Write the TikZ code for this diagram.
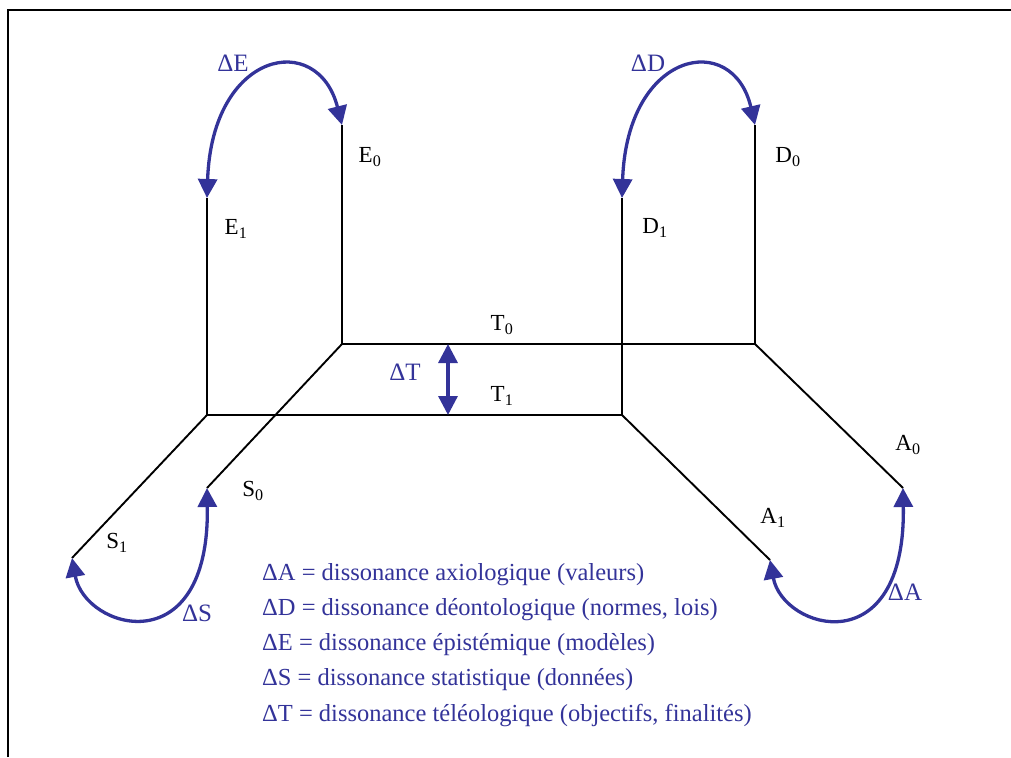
\documentclass[tikz,border=0pt]{standalone}
\usepackage{fontspec}
\setmainfont{Liberation Serif}
\usetikzlibrary{arrows.meta}
\definecolor{dblue}{RGB}{51,51,153}
\begin{document}
\begin{tikzpicture}[x=1pt,y=-1pt,
  axis/.style={line width=1.9pt,black},
  frame/.style={line width=2pt,black},
  delta/.style={line width=3.3pt,dblue,{Triangle[length=19pt,width=19pt]}-{Triangle[length=19pt,width=19pt]}},
  lbl/.style={font=\fontsize{23}{26}\selectfont,inner sep=0pt},
  dlbl/.style={font=\fontsize{25}{28}\selectfont,text=dblue,inner sep=0pt},
  leg/.style={font=\fontsize{24.5}{28}\selectfont,text=dblue,anchor=base west,inner sep=0pt}]
\useasboundingbox (0,0) rectangle (1011,757);
\draw[frame] (8,757) -- (8,10) -- (1011,10);
% points
\coordinate (E0) at (342,125);
\coordinate (E0b) at (342,344);
\coordinate (E1) at (207,198);
\coordinate (E1b) at (207,415);
\coordinate (D0) at (755,125);
\coordinate (D0b) at (755,344);
\coordinate (D1) at (622,198);
\coordinate (D1b) at (622,415);
\coordinate (S0) at (207,488);
\coordinate (S1) at (72,558);
\coordinate (A0) at (903,488);
\coordinate (A1) at (770,560);
\coordinate (Tt) at (448,344);
\coordinate (Tb) at (448,415);
% axes
\draw[axis] (E0) -- (E0b) -- (D0b) -- (D0);
\draw[axis] (E1) -- (E1b) -- (D1b) -- (D1);
\draw[axis] (E0b) -- (S0);
\draw[axis] (E1b) -- (S1);
\draw[axis] (D0b) -- (A0);
\draw[axis] (D1b) -- (A1);
% deltas
\draw[delta] (E1) .. controls (212,50) and (318,30) .. (E0);
\draw[delta] (D1) .. controls (627,50) and (733,30) .. (D0);
\draw[delta] (Tt) -- (Tb);
\draw[delta] (S1) .. controls (85,630) and (210,665) .. (S0);
\draw[delta] (A1) .. controls (783,630) and (906,665) .. (A0);
% labels
\node[dlbl] (lDE) at (233,63) {ΔE};
\node[dlbl] (lDD) at (648,63) {ΔD};
\node[dlbl] (lDT) at (405,372) {ΔT};
\node[dlbl] (lDS) at (197,613) {ΔS};
\node[dlbl] (lDA) at (905,592) {ΔA};
\node[lbl] (lE0) at (370,157) {E\textsubscript{0}};
\node[lbl] (lE1) at (236,229) {E\textsubscript{1}};
\node[lbl] (lD0) at (788,157) {D\textsubscript{0}};
\node[lbl] (lD1) at (655,228) {D\textsubscript{1}};
\node[lbl] (lT0) at (502,325) {T\textsubscript{0}};
\node[lbl] (lT1) at (502,396) {T\textsubscript{1}};
\node[lbl] (lS0) at (253,491) {S\textsubscript{0}};
\node[lbl] (lS1) at (117,543) {S\textsubscript{1}};
\node[lbl] (lA0) at (908,445) {A\textsubscript{0}};
\node[lbl] (lA1) at (773,518) {A\textsubscript{1}};
% legend
\node[leg] (g1) at (262,580) {ΔA = dissonance axiologique (valeurs)};
\node[leg] (g2) at (262,615) {ΔD = dissonance déontologique (normes, lois)};
\node[leg] (g3) at (262,650) {ΔE = dissonance épistémique (modèles)};
\node[leg] (g4) at (262,685) {ΔS = dissonance statistique (données)};
\node[leg] (g5) at (262,721) {ΔT = dissonance téléologique (objectifs, finalités)};
\end{tikzpicture}
\end{document}
